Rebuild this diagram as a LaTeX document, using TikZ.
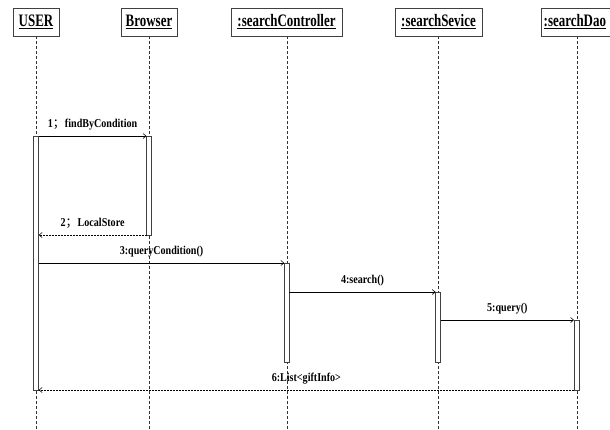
\documentclass[tikz,border=0pt]{standalone}
\usepackage{fontspec}
\setmainfont{Liberation Serif}
\newfontfamily\hdfont[FakeStretch=0.74]{Liberation Serif Bold}
\newfontfamily\msgfont[FakeStretch=0.84]{Liberation Serif Bold}
\newfontfamily\cjk{Noto Sans CJK SC}
\usetikzlibrary{arrows.meta}
\newcommand\myuline[1]{\setbox0=\hbox{#1}\rlap{\copy0}\rule[-2.6pt]{\wd0}{1.3pt}}
\tikzset{
  x=1pt, y=-1pt,
  headbox/.style={draw=black!75, line width=0.7pt, fill=white, minimum height=28pt, inner sep=0pt, font=\hdfont\fontsize{17.5}{18}\selectfont},
  lifeline/.style={draw=black!80, dash pattern=on 3pt off 2pt, line width=0.5pt},
  actbox/.style={draw=black!75, line width=0.7pt, fill=white},
  msg/.style={draw=black, line width=0.6pt, -{Straight Barb[length=3pt,width=5pt]}},
  ret/.style={draw=black, line width=0.6pt, dash pattern=on 2pt off 1pt, -{Straight Barb[length=3pt,width=5pt]}},
  lbl/.style={font=\msgfont\fontsize{12}{13}\selectfont, anchor=base, inner sep=0pt, yshift=8.5pt}
}
\begin{document}
\begin{tikzpicture}
\useasboundingbox (0,0) rectangle (610,429);
% lifelines
\coordinate (uT) at (36,36);   \coordinate (uB) at (36,429);
\coordinate (bT) at (149,36);  \coordinate (bB) at (149,429);
\coordinate (cT) at (287,36);  \coordinate (cB) at (287,429);
\coordinate (sT) at (438,36);  \coordinate (sB) at (438,429);
\coordinate (dT) at (577,36);  \coordinate (dB) at (577,429);
\draw[lifeline] (uT) -- (uB);
\draw[lifeline] (bT) -- (bB);
\draw[lifeline] (cT) -- (cB);
\draw[lifeline] (sT) -- (sB);
\draw[lifeline] (dT) -- (dB);
% headers
\node[headbox, minimum width=46pt] (user) at (36,22) {\myuline{USER}};
\node[headbox, minimum width=56pt] (browser) at (149,22) {\myuline{Browser}};
\node[headbox, minimum width=111pt] (ctrl) at (286.5,22) {\myuline{:searchController}};
\node[headbox, minimum width=87pt] (svc) at (438.5,22) {\myuline{:searchSevice}};
\node[headbox, minimum width=72pt, anchor=west] (dao) at (541,22) {\hspace{-5pt}\myuline{:searchDao}};
% activations
\draw[actbox] (33.3,136) rectangle (38.7,390);
\draw[actbox] (146.5,136) rectangle (151.5,235);
\draw[actbox] (284.3,263) rectangle (289.3,362);
\draw[actbox] (435.7,292) rectangle (440.7,362);
\draw[actbox] (574,320) rectangle (579.3,390);
% message anchors
\coordinate (m1a) at (38.7,136);  \coordinate (m1b) at (146.5,136);
\coordinate (m2a) at (146.5,235); \coordinate (m2b) at (38.7,235);
\coordinate (m3a) at (38.7,263);  \coordinate (m3b) at (284.3,263);
\coordinate (m4a) at (289.3,292); \coordinate (m4b) at (435.7,292);
\coordinate (m5a) at (440.7,320); \coordinate (m5b) at (574,320);
\coordinate (m6a) at (574,390);   \coordinate (m6b) at (38.7,390);
\draw[msg] (m1a) -- node[lbl] (l1) {1{\cjk ；}findByCondition} (m1b);
\draw[ret] (m2a) -- node[lbl] (l2) {2{\cjk ；}LocalStore} (m2b);
\draw[msg] (m3a) -- node[lbl] (l3) {3:queryCondition()} (m3b);
\draw[msg] (m4a) -- node[lbl] (l4) {4:search()} (m4b);
\draw[msg] (m5a) -- node[lbl] (l5) {5:query()} (m5b);
\draw[ret] (m6a) -- node[lbl] (l6) {6:List<giftInfo>} (m6b);
\end{tikzpicture}
\end{document}
